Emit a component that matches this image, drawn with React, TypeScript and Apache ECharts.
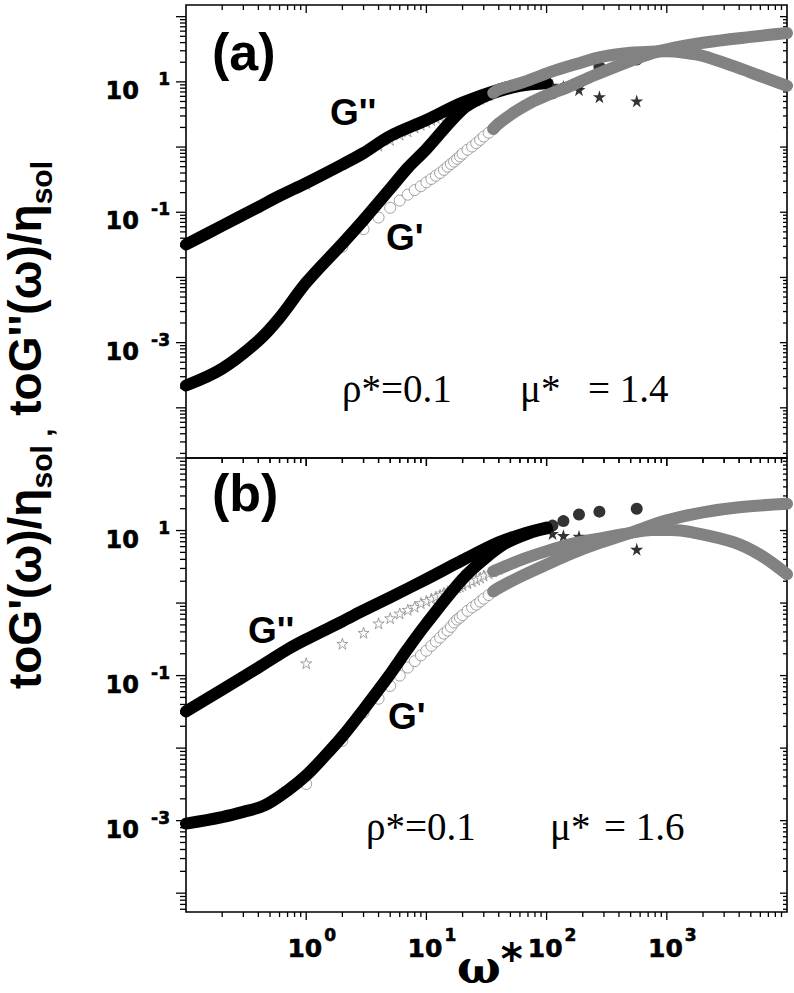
import React, { useEffect, useRef } from "react";
import * as echarts from "echarts";

// ---------- axes ----------
const X_MIN = 0.1;
const X_MAX = 10000;
const Y_MIN_A = 1.7e-5;
const Y_MAX_A = 151;
const Y_MIN_B = 5.5e-5;
const Y_MAX_B = 100;

const X_MAJOR = [0.1, 1, 10, 100, 1000, 10000];
const Y_MAJOR = [1e-5, 1e-4, 1e-3, 1e-2, 0.1, 1, 10, 100];
const MINOR_MULT = [2, 3, 4, 5, 6, 7, 8, 9];

const X_LABEL_VALUES = [1, 10, 100, 1000];
const X_LABEL_EXPS = ["0", "1", "2", "3"];
const Y_LABEL_VALUES = [10, 0.1, 0.001];
const Y_LABEL_EXPS = ["1", "-1", "-3"];

// ---------- sampled frequencies ----------
const OPEN_OMEGA = [1, 2, 3, 4, 5, 6, 7, 8, 9, 10, 11, 12, 13, 14, 15, 16, 17, 18, 19, 20, 22, 24, 26, 28, 30, 33, 36, 40];
const FILLED_OMEGA = [112, 138, 186, 275, 562];

// ---------- panel (a) rho*=0.1, mu*=1.4 ----------
const A_BLACK_G2: [number, number][] = [
  [0.1, 3.2e-2], [0.2, 6.2e-2], [0.4, 0.12], [0.6, 0.178], [1, 0.28], [2, 0.54],
  [3, 0.81], [5, 1.48], [10, 2.6], [20, 4.8], [40, 7.6], [60, 9.0], [100, 9.8],
];
const A_BLACK_G1: [number, number][] = [
  [0.1, 2.2e-4], [0.2, 4.0e-4], [0.4, 1.07e-3], [0.6, 2.4e-3], [1, 8.3e-3], [2, 3.3e-2],
  [3, 7.6e-2], [5, 0.23], [7, 0.48], [10, 0.93], [20, 3.8], [30, 5.9], [40, 7.2],
  [60, 8.7], [100, 9.5],
];
const A_GRAY_G2: [number, number][] = [
  [36, 6.8], [40, 7.6], [65, 10], [107, 14.1], [180, 19], [280, 24], [500, 28],
  [750, 29], [1000, 29.5], [1400, 28], [2000, 25], [3600, 17.4], [6000, 12.3], [10000, 8.7],
];
const A_GRAY_G1: [number, number][] = [
  [36, 1.9], [40, 2.3], [55, 3.5], [75, 4.9], [100, 6.2], [150, 8.3], [250, 12.6],
  [500, 21], [750, 27.5], [1000, 31.6], [2000, 39.8], [5000, 49], [10000, 56],
];
const A_OPEN_STARS = [
  0.27, 0.54, 0.83, 1.05, 1.29, 1.55, 1.74, 2.0, 2.19, 2.4, 2.6, 2.8, 3.0, 3.24,
  3.43, 3.63, 3.8, 3.98, 4.12, 4.27, 4.57, 4.9, 5.2, 5.5, 5.9, 6.3, 6.8, 7.6,
];
const A_OPEN_CIRCLES = [
  8.5e-3, 2.95e-2, 5.5e-2, 8.3e-2, 0.117, 0.151, 0.186, 0.219, 0.251, 0.288, 0.324, 0.363, 0.4, 0.447,
  0.5, 0.55, 0.6, 0.66, 0.72, 0.79, 0.91, 1.02, 1.15, 1.29, 1.45, 1.66, 1.9, 2.3,
];
const A_FILLED_STARS = [8.9, 8.5, 7.6, 5.9, 5.1];
const A_FILLED_CIRCLES = [6.7, 7.9, 9.6, 17, 22];

// ---------- panel (b) rho*=0.1, mu*=1.6 ----------
const B_BLACK_G2: [number, number][] = [
  [0.1, 3.2e-2], [0.2, 6.4e-2], [0.4, 0.129], [0.7, 0.23], [1, 0.316], [2, 0.56],
  [3, 0.79], [5, 1.2], [10, 2.14], [20, 3.9], [40, 6.9], [65, 9.1], [100, 11],
];
const B_BLACK_G1: [number, number][] = [
  [0.1, 9.1e-4], [0.2, 1.12e-3], [0.3, 1.32e-3], [0.45, 1.62e-3], [0.7, 2.6e-3], [1, 4.2e-3],
  [1.5, 8.5e-3], [2, 1.45e-2], [3, 3.4e-2], [5, 0.105], [7, 0.234], [10, 0.52], [20, 2.14],
  [30, 4.0], [45, 6.6], [70, 9.1], [100, 10.7],
];
const B_GRAY_G2: [number, number][] = [
  [36, 2.75], [45, 3.2], [65, 4.1], [100, 5.2], [180, 6.8], [280, 7.8], [500, 9.3],
  [750, 10.2], [1100, 10.2], [1600, 9.5], [3600, 6.9], [6000, 4.6], [10000, 2.5],
];
const B_GRAY_G1: [number, number][] = [
  [36, 1.45], [40, 1.62], [60, 2.3], [100, 3.4], [160, 4.8], [280, 6.8], [500, 9.3],
  [1000, 13.8], [2000, 17.8], [4000, 20.9], [10000, 23.4],
];
const B_OPEN_STARS = [
  0.148, 0.275, 0.39, 0.525, 0.62, 0.72, 0.81, 0.89, 1.0, 1.07, 1.15, 1.23, 1.3, 1.38,
  1.45, 1.51, 1.58, 1.64, 1.7, 1.78, 1.88, 2.0, 2.11, 2.24, 2.4, 2.57, 2.75, 2.95,
];
const B_OPEN_CIRCLES = [
  3.2e-3, 1.26e-2, 3.1e-2, 4.8e-2, 7.2e-2, 0.1, 0.129, 0.158, 0.19, 0.22, 0.257, 0.295, 0.335, 0.38,
  0.417, 0.47, 0.54, 0.59, 0.63, 0.68, 0.78, 0.87, 0.95, 1.05, 1.15, 1.29, 1.45, 1.62,
];
const B_FILLED_STARS = [9.1, 8.5, 8.3, 7.1, 5.5];
const B_FILLED_CIRCLES = [11.7, 13.5, 16.6, 18.2, 20];

const STAR_PATH =
  "path://M50,2 L61.2,36.6 L97.6,36.6 L68.2,58 L79.4,92.6 L50,71.2 L20.6,92.6 L31.8,58 L2.4,36.6 L38.8,36.6 Z";
const GRAY = "#828282";
const MARK_GRAY = "#8a8a8a";
const TICK_FONT = "DejaVu Sans";
const SANS = "Liberation Sans";
const SERIF = "Liberation Serif";

function zip(xs: number[], ys: number[]) {
  return xs.map((x, i) => [x, ys[i]]);
}

function buildTicks(yMin: number, yMax: number) {
  const out: number[][] = [];
  for (const d of Y_MAJOR) {
    if (d >= yMin && d <= yMax) {
      out.push([X_MIN, d, 0, 10]);
      out.push([X_MAX, d, 0, 7]);
    }
    for (const m of MINOR_MULT) {
      const v = m * d;
      if (v > yMin && v < yMax) {
        out.push([X_MIN, v, 0, 6]);
        out.push([X_MAX, v, 0, 4]);
      }
    }
  }
  for (const d of X_MAJOR) {
    if (d > X_MIN && d < X_MAX) {
      out.push([d, yMax, 1, 8]);
      out.push([d, yMin, 1, 8]);
    }
    if (d < X_MAX) {
      for (const m of MINOR_MULT) {
        out.push([m * d, yMax, 1, 5]);
        out.push([m * d, yMin, 1, 5]);
      }
    }
  }
  return out;
}

function panelSeries(g: number, d: any) {
  const base = { xAxisIndex: g, yAxisIndex: g, silent: true };
  const band = (data: [number, number][], color: string) => ({
    ...base,
    type: "line",
    data,
    symbol: "none",
    showSymbol: false,
    smooth: 0.35,
    lineStyle: { width: 12, color, cap: "round", join: "round" },
  });
  return [
    band(d.blackG2, "#000"),
    band(d.blackG1, "#000"),
    {
      ...base,
      type: "scatter",
      data: zip(FILLED_OMEGA, d.filledCircles),
      symbol: "circle",
      symbolSize: 12,
      itemStyle: { color: "#000" },
    },
    {
      ...base,
      type: "scatter",
      data: zip(FILLED_OMEGA, d.filledStars),
      symbol: STAR_PATH,
      symbolSize: 13,
      itemStyle: { color: "#000" },
    },
    band(d.grayG2, GRAY),
    band(d.grayG1, GRAY),
    {
      ...base,
      type: "scatter",
      data: zip(OPEN_OMEGA, d.openCircles),
      symbol: "circle",
      symbolSize: 11,
      itemStyle: { color: "#fff", borderColor: MARK_GRAY, borderWidth: 1 },
    },
    {
      ...base,
      type: "scatter",
      data: zip(OPEN_OMEGA, d.openStars),
      symbol: STAR_PATH,
      symbolSize: 11,
      itemStyle: { color: "#fff", borderColor: MARK_GRAY, borderWidth: 1 },
    },
    {
      ...base,
      type: "custom",
      clip: false,
      dimensions: ["x", "y", "k", "l"],
      encode: { x: 0, y: 1 },
      data: buildTicks(d.yMin, d.yMax),
      renderItem: (_p: any, api: any) => {
        const p = api.coord([api.value(0), api.value(1)]);
        const k = api.value(2);
        const len = api.value(3);
        const shape =
          k === 0
            ? { x1: p[0], y1: p[1], x2: p[0] - len, y2: p[1] }
            : { x1: p[0], y1: p[1], x2: p[0], y2: p[1] + len };
        return { type: "line", shape, style: { stroke: "#000", lineWidth: 1.3 } };
      },
    },
  ];
}

function label(text: string, x: number, y: number, size: number, family = SANS, bold = true) {
  return {
    type: "text",
    x,
    y,
    silent: true,
    style: {
      text,
      fontSize: size,
      fontFamily: family,
      fontWeight: bold ? "bold" : "normal",
      fill: "#000",
      verticalAlign: "middle",
    },
  };
}

function tickText(text: string, x: number, y: number, size: number, align: string) {
  return {
    type: "text",
    x,
    y,
    silent: true,
    style: {
      text,
      fontSize: size,
      fontFamily: TICK_FONT,
      fontWeight: "bold",
      fill: "#000",
      stroke: "#000",
      lineWidth: 0.6,
      align,
      verticalAlign: "middle",
    },
  };
}

export default function App() {
  const ref = useRef<HTMLDivElement>(null);
  useEffect(() => {
    if (!ref.current) return;
    const chart = echarts.init(ref.current, null, { renderer: "svg" });
    const dataA = {
      blackG2: A_BLACK_G2, blackG1: A_BLACK_G1, grayG2: A_GRAY_G2, grayG1: A_GRAY_G1,
      openStars: A_OPEN_STARS, openCircles: A_OPEN_CIRCLES,
      filledStars: A_FILLED_STARS, filledCircles: A_FILLED_CIRCLES,
      yMin: Y_MIN_A, yMax: Y_MAX_A,
    };
    const dataB = {
      blackG2: B_BLACK_G2, blackG1: B_BLACK_G1, grayG2: B_GRAY_G2, grayG1: B_GRAY_G1,
      openStars: B_OPEN_STARS, openCircles: B_OPEN_CIRCLES,
      filledStars: B_FILLED_STARS, filledCircles: B_FILLED_CIRCLES,
      yMin: Y_MIN_B, yMax: Y_MAX_B,
    };
    const gridCommon = { show: true, borderColor: "#000", borderWidth: 1.6, backgroundColor: "transparent" };
    chart.setOption({
      animation: false,
      backgroundColor: "#fff",
      grid: [
        { ...gridCommon, left: 186, top: 5, width: 601, height: 453 },
        { ...gridCommon, left: 186, top: 458, width: 601, height: 454 },
      ],
      xAxis: [
        { type: "log", logBase: 10, gridIndex: 0, min: X_MIN, max: X_MAX, show: false },
        { type: "log", logBase: 10, gridIndex: 1, min: X_MIN, max: X_MAX, show: false },
      ],
      yAxis: [
        { type: "log", logBase: 10, gridIndex: 0, min: Y_MIN_A, max: Y_MAX_A, show: false },
        { type: "log", logBase: 10, gridIndex: 1, min: Y_MIN_B, max: Y_MAX_B, show: false },
      ],
      series: [...panelSeries(0, dataA), ...panelSeries(1, dataB)],
    });

    // axis tick labels placed through the axes' own scales
    const tickLabels: any[] = [];
    [0, 1].forEach((g) => {
      Y_LABEL_VALUES.forEach((v, i) => {
        const p = chart.convertToPixel({ gridIndex: g }, [X_MIN, v]) as number[];
        tickLabels.push(tickText("10", p[0] - 47, p[1] + 9, 24, "right"));
        tickLabels.push(tickText(Y_LABEL_EXPS[i], p[0] - 16, p[1] - 3, 17, "right"));
      });
    });
    X_LABEL_VALUES.forEach((v, i) => {
      const p = chart.convertToPixel({ gridIndex: 1 }, [v, Y_MIN_B]) as number[];
      tickLabels.push(tickText("10", p[0] + 16, p[1] + 36, 25, "right"));
      tickLabels.push(tickText(X_LABEL_EXPS[i], p[0] + 18, p[1] + 23, 17, "left"));
    });

    chart.setOption({
      graphic: [
        ...tickLabels,
        label("(a)", 212, 52, 52),
        label("(b)", 212, 493, 52),
        label("G''", 330, 112, 37),
        label("G'", 386, 237, 37),
        label("G''", 248, 630, 37),
        label("G'", 388, 716, 37),
        label("ρ*=0.1", 342, 388, 39, SERIF, false),
        label("μ*", 520, 388, 39, SERIF, false),
        label("= 1.4", 588, 388, 39, SERIF, false),
        label("ρ*=0.1", 366, 826, 39, SERIF, false),
        label("μ*", 550, 826, 39, SERIF, false),
        label("= 1.6", 604, 826, 39, SERIF, false),
        {
          type: "text",
          x: 457,
          y: 938,
          silent: true,
          style: {
            text: "{w|ω}{a|*}",
            verticalAlign: "top",
            fill: "#000",
            rich: {
              w: { fontSize: 46, fontFamily: "DejaVu Serif", fontWeight: "bold", lineHeight: 52, verticalAlign: "bottom", fill: "#000" },
              a: { fontSize: 42, fontFamily: "DejaVu Sans", fontWeight: "bold", lineHeight: 40, verticalAlign: "top", fill: "#000" },
            },
          },
        },
        {
          type: "text",
          x: 56,
          y: 425,
          rotation: Math.PI / 2,
          silent: true,
          style: {
            text: "{m|toG'(ω)/η}{s|sol ,}{m| toG''(ω)/η}{s|sol}",
            align: "center",
            verticalAlign: "bottom",
            fill: "#000",
            rich: {
              m: { fontSize: 46, fontFamily: SANS, fontWeight: "bold", lineHeight: 54, verticalAlign: "top", fill: "#000" },
              s: { fontSize: 30, fontFamily: SANS, fontWeight: "bold", lineHeight: 24, verticalAlign: "bottom", fill: "#000" },
            },
          },
        },
      ],
    });
    return () => chart.dispose();
  }, []);
  return (
    <div
      ref={ref}
      style={{ position: "absolute", left: 0, top: 0, width: 794, height: 993 }}
    />
  );
}
